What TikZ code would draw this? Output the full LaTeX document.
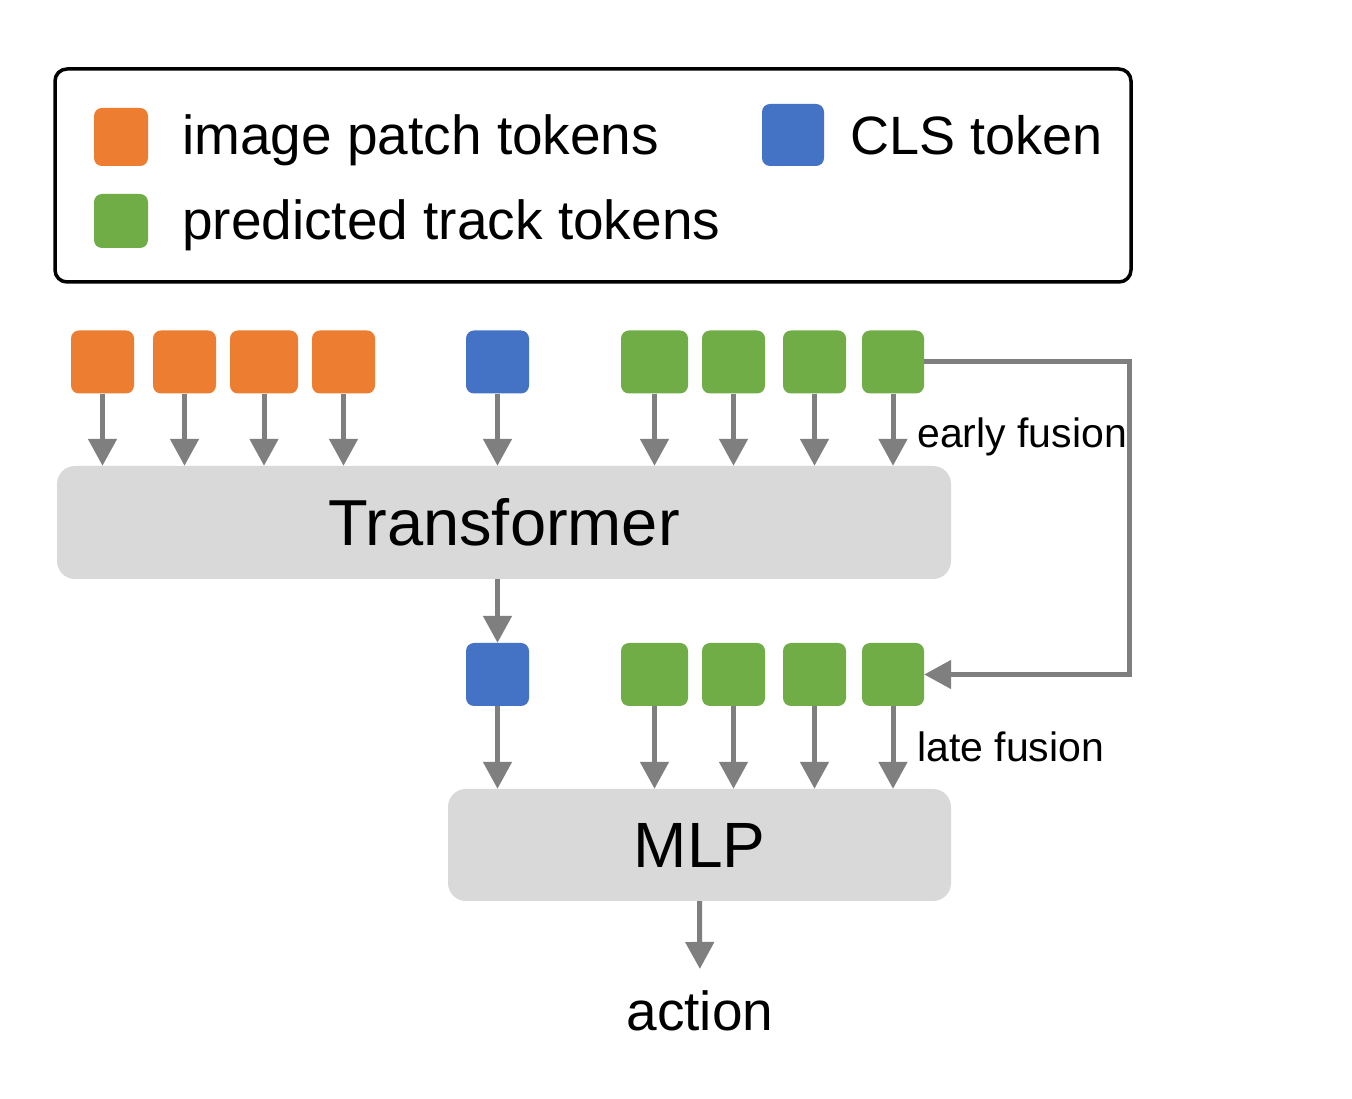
\documentclass[tikz,border=0pt]{standalone}
\usepackage{fontspec}
\setmainfont{Liberation Sans}
\usetikzlibrary{arrows.meta,positioning}

\begin{document}
\begin{tikzpicture}[x=1pt,y=1pt,
  token/.style={rectangle,rounded corners=8pt,minimum width=63pt,minimum height=63pt,inner sep=0pt},
  block/.style={rectangle,rounded corners=18pt,fill=blockColor,inner sep=0pt},
  flow/.style={draw=arrowColor,line width=5pt,-{Triangle[width=28pt,length=27pt]}},
  legtext/.style={anchor=base west,inner sep=0pt,font=\fontsize{55}{60}\selectfont},
  fusetext/.style={anchor=base west,inner sep=0pt,font=\fontsize{41}{46}\selectfont}]
\definecolor{patchColor}{RGB}{237,125,49}
\definecolor{clsColor}{RGB}{68,114,196}
\definecolor{trackColor}{RGB}{112,173,71}
\definecolor{blockColor}{RGB}{217,217,217}
\definecolor{arrowColor}{RGB}{127,127,127}
\path[use as bounding box,fill=white] (0,0) rectangle (1352,1098);

% legend
\node[draw=black,line width=3.5pt,rounded corners=12pt,minimum width=1076pt,minimum height=213pt] (legend) at (593,922.5) {};
\node[token,fill=patchColor,minimum width=54pt,minimum height=58pt] (legPatch) at (121,961) {};
\node[token,fill=trackColor,minimum width=54pt,minimum height=54pt] (legTrack) at (121,877) {};
\node[token,fill=clsColor,minimum width=62pt,minimum height=62pt] (legCls) at (793,963) {};
\node[legtext] (legPatchText) at (182,943) {image patch tokens};
\node[legtext] (legTrackText) at (182,858) {predicted track tokens};
\node[legtext,font=\fontsize{54}{60}\selectfont] (legClsText) at (850,943) {CLS token};

% blocks
\node[block,minimum width=894pt,minimum height=113pt,font=\fontsize{65}{70}\selectfont] (trans) at (504,575.5) {Transformer};
\node[block,minimum width=503pt,minimum height=112pt,font=\fontsize{64}{70}\selectfont] (mlp) at (699.5,253) {MLP};
\node[anchor=base,inner sep=0pt,font=\fontsize{55}{60}\selectfont] (action) at (700,68) {action};

% input tokens
\foreach \n/\x/\w in {1/102.5/63,2/184.5/63,3/264/68,4/343.5/63}
  \node[token,fill=patchColor,minimum width=\w pt] (pA\n) at (\x,736) {};
\node[token,fill=clsColor] (cA) at (497.5,736) {};
\foreach \n/\x/\w in {1/654.5/67,2/733.5/63,3/814.5/63,4/893/62}
  \node[token,fill=trackColor,minimum width=\w pt] (tA\n) at (\x,736) {};

% second row
\node[token,fill=clsColor] (cB) at (497.5,423.5) {};
\foreach \n/\x/\w in {1/654.5/67,2/733.5/63,3/814.5/63,4/893/62}
  \node[token,fill=trackColor,minimum width=\w pt] (tB\n) at (\x,423.5) {};

% arrows into transformer
\foreach \n in {1,...,4}
  \draw[flow] (pA\n.south) -- (pA\n.south |- trans.north);
\draw[flow] (cA.south) -- (cA.south |- trans.north);
\foreach \n in {1,...,4}
  \draw[flow] (tA\n.south) -- (tA\n.south |- trans.north);

% transformer to cls, then into mlp
\draw[flow] (trans.south -| cB.north) -- (cB.north);
\draw[flow] (cB.south) -- (cB.south |- mlp.north);
\foreach \n in {1,...,4}
  \draw[flow] (tB\n.south) -- (tB\n.south |- mlp.north);
\draw[flow,shorten >=21pt] (mlp.south) -- (action.north);

% fusion path
\draw[flow] (tA4.east) -- ++(205,0) |- (tB4.east);
\node[fusetext] (early) at (917,650) {early fusion};
\node[fusetext] (late) at (917,336) {late fusion};
\end{tikzpicture}
\end{document}
